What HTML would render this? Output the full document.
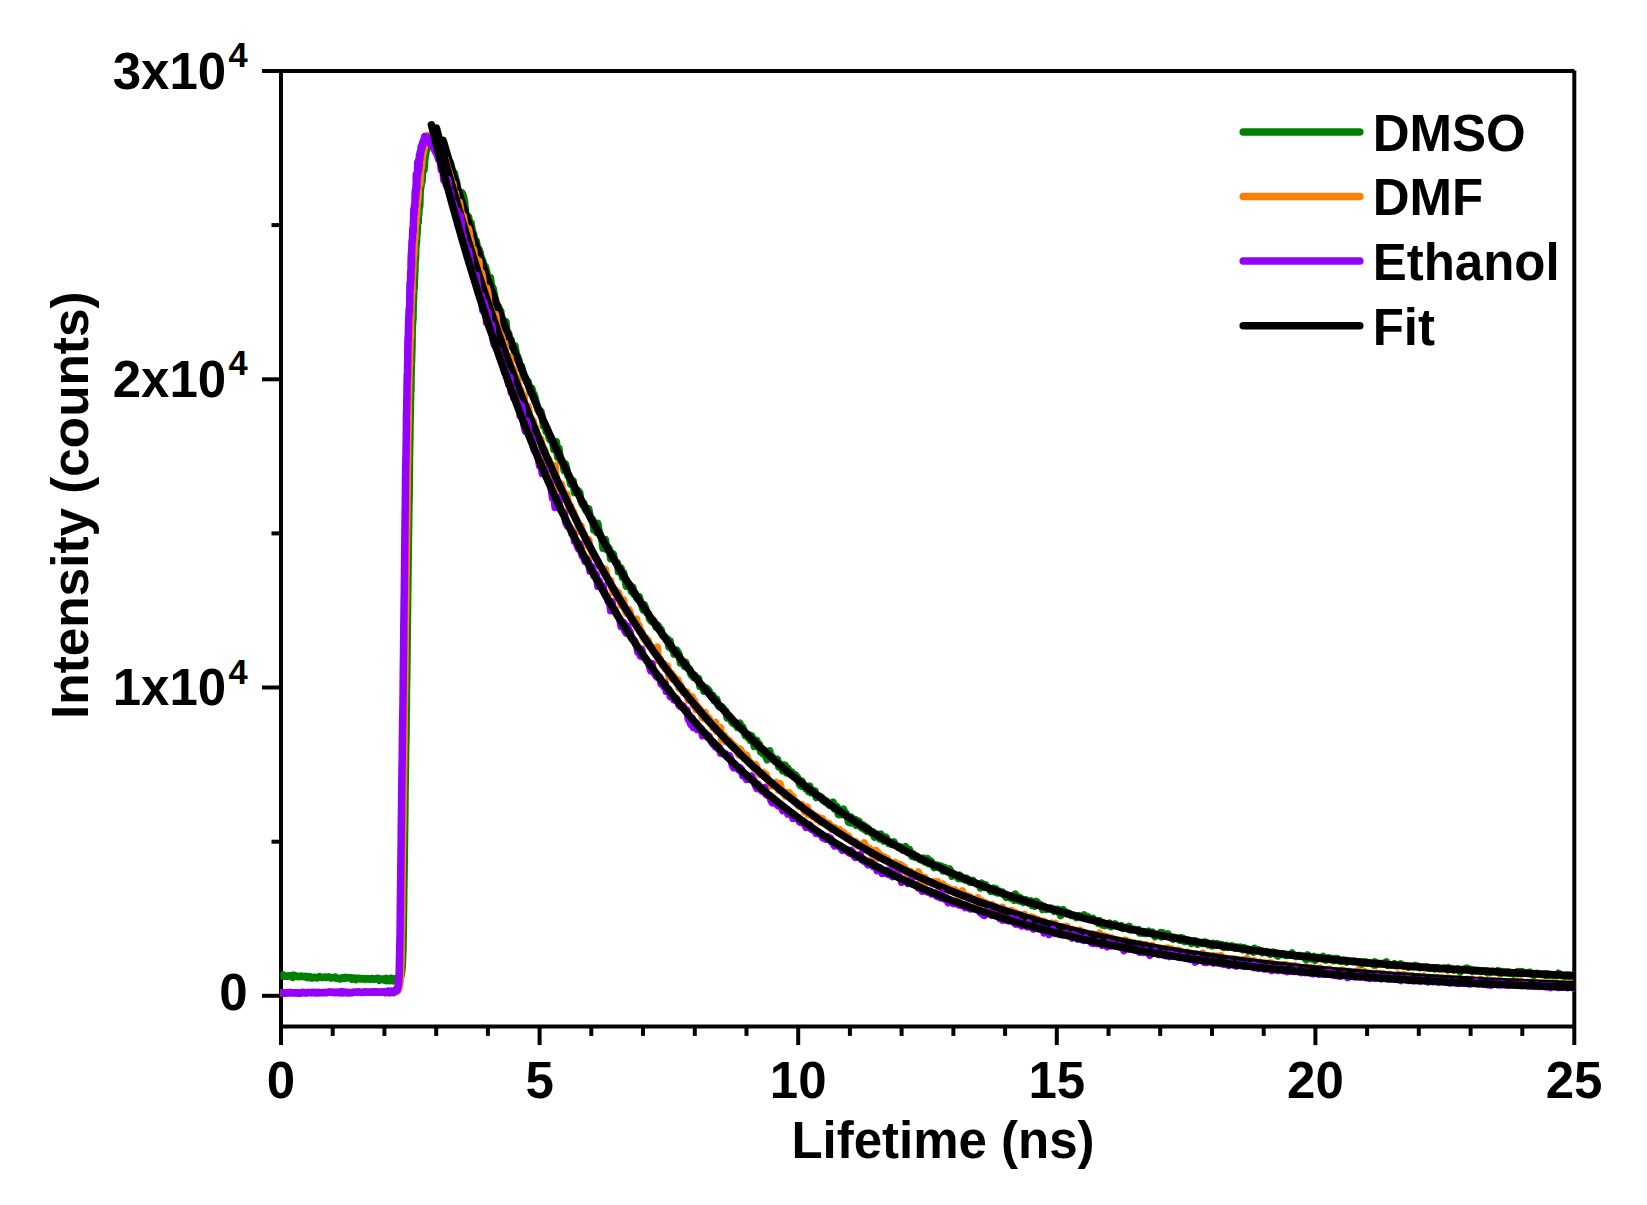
<!DOCTYPE html>
<html lang="en">
<head>
<meta charset="utf-8">
<title>Lifetime decay</title>
<style>html,body{margin:0;padding:0;background:#fff}svg{display:block}</style>
</head>
<body>
<svg width="1647" height="1205" viewBox="0 0 1647 1205">
<rect width="1647" height="1205" fill="#fff"/>
<defs><clipPath id="pc"><rect x="280.4" y="71.0" width="1294.8" height="955.6"/></clipPath></defs>
<g stroke="#000" stroke-width="4.0" fill="none" stroke-linecap="butt">
<line x1="281.0" y1="69.0" x2="281.0" y2="1045.1"/>
<line x1="1574.3" y1="70.5" x2="1574.3" y2="1045.1"/>
<line x1="262.0" y1="71.0" x2="1574.3" y2="71.0"/>
<line x1="281.0" y1="1026.6" x2="1574.3" y2="1026.6"/>
<line x1="332.7" y1="1026.6" x2="332.7" y2="1035.9"/>
<line x1="384.4" y1="1026.6" x2="384.4" y2="1035.9"/>
<line x1="436.2" y1="1026.6" x2="436.2" y2="1035.9"/>
<line x1="487.9" y1="1026.6" x2="487.9" y2="1035.9"/>
<line x1="539.6" y1="1026.6" x2="539.6" y2="1045.1"/>
<line x1="591.3" y1="1026.6" x2="591.3" y2="1035.9"/>
<line x1="643.0" y1="1026.6" x2="643.0" y2="1035.9"/>
<line x1="694.8" y1="1026.6" x2="694.8" y2="1035.9"/>
<line x1="746.5" y1="1026.6" x2="746.5" y2="1035.9"/>
<line x1="798.2" y1="1026.6" x2="798.2" y2="1045.1"/>
<line x1="849.9" y1="1026.6" x2="849.9" y2="1035.9"/>
<line x1="901.6" y1="1026.6" x2="901.6" y2="1035.9"/>
<line x1="953.4" y1="1026.6" x2="953.4" y2="1035.9"/>
<line x1="1005.1" y1="1026.6" x2="1005.1" y2="1035.9"/>
<line x1="1056.8" y1="1026.6" x2="1056.8" y2="1045.1"/>
<line x1="1108.5" y1="1026.6" x2="1108.5" y2="1035.9"/>
<line x1="1160.2" y1="1026.6" x2="1160.2" y2="1035.9"/>
<line x1="1212.0" y1="1026.6" x2="1212.0" y2="1035.9"/>
<line x1="1263.7" y1="1026.6" x2="1263.7" y2="1035.9"/>
<line x1="1315.4" y1="1026.6" x2="1315.4" y2="1045.1"/>
<line x1="1367.1" y1="1026.6" x2="1367.1" y2="1035.9"/>
<line x1="1418.8" y1="1026.6" x2="1418.8" y2="1035.9"/>
<line x1="1470.6" y1="1026.6" x2="1470.6" y2="1035.9"/>
<line x1="1522.3" y1="1026.6" x2="1522.3" y2="1035.9"/>
<line x1="262.0" y1="995.8" x2="281.0" y2="995.8"/>
<line x1="271.5" y1="841.7" x2="281.0" y2="841.7"/>
<line x1="262.0" y1="687.5" x2="281.0" y2="687.5"/>
<line x1="271.5" y1="533.4" x2="281.0" y2="533.4"/>
<line x1="262.0" y1="379.3" x2="281.0" y2="379.3"/>
<line x1="271.5" y1="225.1" x2="281.0" y2="225.1"/>
</g>
<g clip-path="url(#pc)" fill="none" stroke-linejoin="round" stroke-linecap="round">
<path stroke="#008000" stroke-width="7.5" d="M281.0 975.7L282.3 974.9L283.6 975.0L284.9 976.2L286.2 976.1L287.5 976.3L288.8 975.7L290.1 976.1L291.3 975.6L292.6 977.4L293.9 975.2L295.2 976.3L296.5 975.9L297.8 976.5L299.1 976.7L300.4 976.2L301.7 976.0L303.0 976.7L304.3 976.7L305.6 976.2L306.9 977.3L308.2 977.7L309.4 976.5L310.7 977.3L312.0 978.1L313.3 977.5L314.6 977.3L315.9 977.8L317.2 978.0L318.5 977.1L319.8 976.6L321.1 977.4L322.4 977.7L323.7 977.1L325.0 976.9L326.3 977.6L327.5 977.1L328.8 976.8L330.1 977.7L331.4 978.1L332.7 977.4L334.0 977.5L335.3 977.0L336.6 978.6L337.9 978.3L339.2 978.4L340.5 979.0L341.8 977.9L343.1 977.7L344.4 978.5L345.6 977.3L346.9 977.7L348.2 977.8L349.5 978.0L350.8 977.7L352.1 979.2L353.4 978.0L354.7 978.1L356.0 979.6L357.3 978.3L358.6 978.7L359.9 978.2L361.2 979.0L362.5 978.7L363.8 978.6L365.0 979.4L366.3 978.5L367.6 979.0L368.9 978.7L370.2 979.3L371.5 978.4L372.8 978.7L374.1 979.3L375.4 978.8L376.7 978.5L378.0 978.2L379.3 980.3L380.6 978.9L381.9 979.2L383.1 979.5L384.4 980.1L384.6 978.8L384.9 980.3L385.1 979.2L385.3 978.8L385.5 980.5L385.7 979.8L385.7 980.4L385.9 979.4L386.1 978.7L386.3 978.4L386.5 980.7L386.7 980.0L386.9 979.2L387.0 978.7L387.1 979.4L387.3 980.1L387.5 979.5L387.8 979.7L388.0 979.8L388.2 980.1L388.3 979.4L388.4 979.5L388.6 979.7L388.8 979.8L389.0 980.5L389.2 980.0L389.4 979.0L389.6 979.8L389.8 980.6L390.0 978.9L390.2 979.4L390.4 978.5L390.6 979.7L390.9 980.0L390.9 980.6L391.1 979.0L391.3 978.2L391.5 980.3L391.7 980.2L391.9 979.4L392.1 980.3L392.2 979.9L392.3 980.0L392.5 979.6L392.7 979.1L392.9 979.7L393.1 979.2L393.3 980.0L393.5 979.5L393.5 981.0L393.7 980.6L394.0 979.2L394.2 980.0L394.4 979.3L394.6 979.3L394.8 978.8L395.0 979.1L395.2 979.0L395.4 979.7L395.6 980.0L395.8 980.0L396.0 979.8L396.1 980.2L396.2 979.8L396.4 979.5L396.6 979.3L396.9 979.6L397.1 980.5L397.3 979.4L397.4 979.2L397.5 978.6L397.7 978.9L397.9 979.5L398.1 979.5L398.3 977.8L398.5 978.5L398.7 977.7L398.7 977.5L398.9 979.2L399.1 978.3L399.3 978.1L399.5 977.8L399.7 977.6L400.0 977.6L400.2 977.3L400.4 978.1L400.6 976.8L400.8 976.7L401.0 975.5L401.2 975.1L401.2 974.2L401.4 973.4L401.6 972.7L401.8 971.2L402.0 969.2L402.2 967.0L402.4 963.5L402.5 961.4L402.6 957.7L402.9 950.9L403.1 941.7L403.3 932.2L403.5 914.9L403.7 901.6L403.8 890.2L403.9 885.6L404.1 871.0L404.3 853.8L404.5 839.5L404.7 824.8L404.9 809.0L405.1 789.3L405.3 777.0L405.5 764.8L405.7 747.2L406.0 736.0L406.2 712.6L406.4 705.6L406.4 696.6L406.6 684.7L406.8 674.0L407.0 653.1L407.2 634.7L407.4 619.7L407.6 603.9L407.7 593.8L407.8 588.0L408.0 571.6L408.2 557.5L408.4 539.9L408.6 529.5L408.9 508.1L409.0 500.6L409.1 498.7L409.3 478.3L409.5 458.5L409.7 446.4L409.9 437.7L410.1 420.5L410.3 412.9L410.5 401.3L410.7 391.1L410.9 391.1L411.1 373.2L411.3 369.6L411.5 360.6L411.6 361.6L411.7 356.2L412.0 346.9L412.2 333.4L412.4 323.6L412.6 323.9L412.8 313.7L412.9 316.1L413.0 319.7L413.2 306.3L413.4 299.9L413.6 298.4L413.8 290.7L414.0 284.9L414.2 287.2L414.2 288.5L414.4 279.1L414.6 274.7L414.9 271.1L415.1 261.7L415.3 254.8L415.5 259.6L415.7 251.4L415.9 246.8L416.1 244.3L416.3 239.5L416.5 242.1L416.7 234.3L416.8 228.2L416.9 230.9L417.1 233.8L417.3 225.8L417.5 220.2L417.7 221.2L418.0 222.3L418.1 212.2L418.2 222.5L418.4 212.6L418.6 212.2L418.8 214.6L419.0 202.0L419.2 203.3L419.4 207.8L419.4 199.8L419.6 201.9L419.8 205.9L420.0 198.6L420.2 192.4L420.4 188.7L420.6 188.7L420.9 187.2L421.1 183.5L421.3 184.5L421.5 176.8L421.7 179.4L421.9 177.1L421.9 175.6L422.1 181.2L422.3 178.1L422.5 166.9L422.7 170.5L422.9 171.6L423.1 167.4L423.2 170.2L423.3 166.2L423.5 168.9L423.7 163.4L424.0 170.0L424.2 156.2L424.4 162.8L424.5 166.5L424.6 160.3L424.8 159.7L425.0 156.7L425.2 157.0L425.4 154.2L425.6 149.6L425.8 153.8L426.0 151.1L426.2 150.8L426.4 149.3L426.6 150.6L426.9 149.0L427.1 146.5L427.1 146.8L427.3 144.4L427.5 146.1L427.7 144.4L427.9 140.6L428.1 143.9L428.3 143.4L428.4 142.1L428.5 141.8L428.7 140.2L428.9 140.4L429.1 140.9L429.3 139.4L429.5 136.4L429.7 137.7L429.7 142.1L430.0 139.0L430.2 139.7L430.4 137.9L430.6 138.7L430.8 136.3L431.0 137.3L432.3 137.4L433.6 139.0L434.9 140.3L436.2 141.0L437.5 141.3L438.7 143.7L440.0 146.4L441.3 146.6L442.6 149.9L443.9 152.5L445.2 158.4L446.5 160.1L447.8 163.3L449.1 175.7L450.4 162.5L451.7 167.8L453.0 174.5L454.3 172.7L455.6 178.9L456.8 182.9L458.1 198.7L459.4 193.0L460.7 193.5L462.0 192.9L463.3 195.8L464.6 201.4L465.9 216.2L467.2 224.4L468.5 216.7L469.8 222.9L471.1 223.0L472.4 231.4L473.7 233.9L474.9 244.8L476.2 240.7L477.5 248.2L478.8 248.9L480.1 252.3L481.4 258.5L482.7 260.6L484.0 265.7L485.3 266.4L486.6 271.2L487.9 279.2L489.2 283.1L490.5 277.6L491.8 288.6L493.1 288.0L494.3 294.1L495.6 301.5L496.9 305.9L498.2 306.1L499.5 309.2L500.8 311.4L502.1 322.2L503.4 323.2L504.7 324.8L506.0 321.7L507.3 340.4L508.6 333.1L509.9 340.3L511.2 340.0L512.4 346.9L513.7 347.1L515.0 345.9L516.3 353.8L517.6 356.8L518.9 360.3L520.2 367.8L521.5 366.2L522.8 372.3L524.1 377.7L525.4 378.0L526.7 381.9L528.0 381.4L529.3 387.5L530.5 392.4L531.8 388.2L533.1 393.0L534.4 395.1L535.7 400.5L537.0 406.2L538.3 410.3L539.6 412.8L540.9 411.3L542.2 417.3L543.5 426.0L544.8 423.7L546.1 431.5L547.4 428.8L548.7 436.5L549.9 439.6L551.2 437.6L552.5 441.1L553.8 449.5L555.1 443.8L556.4 441.7L557.7 457.1L559.0 448.4L560.3 459.9L561.6 461.9L562.9 463.5L564.2 470.6L565.5 463.9L566.8 469.3L568.0 476.2L569.3 477.2L570.6 484.0L571.9 482.7L573.2 481.0L574.5 492.5L575.8 490.7L577.1 491.3L578.4 490.9L579.7 492.4L581.0 501.0L582.3 504.4L583.6 502.9L584.9 508.1L586.1 510.4L587.4 508.3L588.7 508.8L590.0 515.8L591.3 519.8L592.6 519.7L593.9 530.0L595.2 526.4L596.5 532.1L597.8 523.3L599.1 531.1L600.4 535.2L601.7 538.6L603.0 548.3L604.2 540.3L605.5 539.7L606.8 549.5L608.1 547.3L609.4 549.4L610.7 558.8L612.0 553.2L613.3 554.1L614.6 559.8L615.9 562.9L617.2 562.5L618.5 571.8L619.8 568.9L621.1 568.1L622.4 577.3L623.6 572.6L624.9 579.0L626.2 586.2L627.5 582.2L628.8 586.9L630.1 585.1L631.4 591.6L632.7 587.0L634.0 594.4L635.3 593.1L636.6 598.0L637.9 599.2L639.2 596.7L640.5 601.5L641.7 605.3L643.0 609.8L644.3 604.7L645.6 607.9L646.9 612.9L648.2 613.1L649.5 618.8L650.8 620.6L652.1 621.9L653.4 620.4L654.7 622.5L656.0 627.3L657.3 624.9L658.6 626.6L659.8 630.2L661.1 629.6L662.4 635.1L663.7 636.4L665.0 636.6L666.3 639.8L667.6 639.2L668.9 646.8L670.2 641.0L671.5 648.9L672.8 648.9L674.1 654.0L675.4 650.3L676.7 650.1L678.0 652.4L679.2 654.7L680.5 663.0L681.8 662.5L683.1 663.3L684.4 666.3L685.7 662.3L687.0 666.5L688.3 668.7L689.6 669.0L690.9 674.4L692.2 675.9L693.5 677.4L694.8 675.4L696.1 677.4L697.3 678.3L698.6 678.5L699.9 686.5L701.2 686.0L702.5 685.7L703.8 691.1L705.1 690.5L706.4 688.0L707.7 689.3L709.0 690.8L710.3 695.0L711.6 697.2L712.9 695.3L714.2 700.5L715.4 700.2L716.7 699.1L718.0 704.9L719.3 706.9L720.6 706.8L721.9 706.7L723.2 708.4L724.5 710.7L725.8 711.1L727.1 717.9L728.4 717.4L729.7 716.2L731.0 720.3L732.3 722.7L733.5 723.7L734.8 724.3L736.1 723.9L737.4 727.3L738.7 725.5L740.0 723.3L741.3 729.1L742.6 727.0L743.9 730.7L745.2 735.4L746.5 734.6L747.8 737.6L749.1 734.7L750.4 740.5L751.7 735.9L752.9 738.9L754.2 746.4L755.5 740.9L756.8 740.4L758.1 747.1L759.4 744.2L760.7 751.9L762.0 748.3L763.3 754.0L764.6 750.2L765.9 756.7L767.2 759.8L768.5 754.0L769.8 750.8L771.0 758.6L772.3 756.5L773.6 759.3L774.9 761.4L776.2 760.4L777.5 759.3L778.8 766.9L780.1 764.0L781.4 765.6L782.7 770.7L784.0 765.0L785.3 765.3L786.6 772.9L787.9 768.0L789.1 772.9L790.4 774.4L791.7 771.8L793.0 775.7L794.3 776.6L795.6 775.0L796.9 776.6L798.2 778.5L799.5 784.5L800.8 785.9L802.1 781.1L803.4 786.6L804.7 785.3L806.0 788.9L807.3 788.0L808.5 791.4L809.8 786.1L811.1 792.8L812.4 791.9L813.7 793.0L815.0 791.0L816.3 797.6L817.6 795.6L818.9 796.9L820.2 796.3L821.5 797.4L822.8 800.3L824.1 799.8L825.4 802.0L826.6 801.2L827.9 803.3L829.2 805.4L830.5 805.0L831.8 805.1L833.1 802.1L834.4 808.7L835.7 808.0L837.0 806.5L838.3 814.6L839.6 814.8L840.9 814.5L842.2 813.2L843.5 809.0L844.7 814.0L846.0 813.2L847.3 816.9L848.6 822.3L849.9 822.8L851.2 817.0L852.5 819.5L853.8 823.3L855.1 819.4L856.4 825.4L857.7 821.0L859.0 821.2L860.3 826.3L861.6 827.8L862.9 824.8L864.1 829.4L865.4 826.4L866.7 831.2L868.0 828.1L869.3 830.3L870.6 832.1L871.9 833.7L873.2 832.3L874.5 837.2L875.8 834.9L877.1 835.8L878.4 834.6L879.7 839.0L881.0 834.1L882.2 838.7L883.5 841.0L884.8 837.0L886.1 837.2L887.4 841.4L888.7 843.4L890.0 842.5L891.3 844.5L892.6 844.5L893.9 841.8L895.2 844.7L896.5 845.8L897.8 846.2L899.1 847.6L900.3 846.7L901.6 847.3L902.9 850.2L904.2 850.1L905.5 846.6L906.8 850.9L908.1 852.6L909.4 849.3L910.7 853.6L912.0 856.2L913.3 853.8L914.6 857.2L915.9 857.1L917.2 856.3L918.4 857.8L919.7 859.6L921.0 859.8L922.3 860.5L923.6 858.1L924.9 862.0L926.2 862.4L927.5 858.5L928.8 863.6L930.1 860.7L931.4 861.6L932.7 864.7L934.0 867.5L935.3 864.9L936.6 865.2L937.8 865.3L939.1 867.4L940.4 866.0L941.7 866.3L943.0 871.0L944.3 867.4L945.6 870.1L946.9 871.9L948.2 872.1L949.5 869.0L950.8 871.1L952.1 876.2L953.4 873.7L954.7 874.6L955.9 875.3L957.2 876.4L958.5 878.5L959.8 875.2L961.1 878.7L962.4 878.3L963.7 879.2L965.0 880.0L966.3 878.1L967.6 879.2L968.9 881.5L970.2 882.4L971.5 882.2L972.8 880.4L974.0 882.3L975.3 882.6L976.6 884.0L977.9 884.4L979.2 884.2L980.5 887.9L981.8 883.0L983.1 887.3L984.4 887.4L985.7 884.9L987.0 887.2L988.3 887.9L989.6 889.4L990.9 891.4L992.1 889.2L993.4 888.1L994.7 891.8L996.0 888.8L997.3 893.1L998.6 893.0L999.9 891.5L1001.2 892.8L1002.5 892.2L1003.8 894.8L1005.1 895.7L1006.4 897.4L1007.7 896.9L1009.0 897.1L1010.3 898.1L1011.5 896.0L1012.8 897.9L1014.1 900.3L1015.4 894.1L1016.7 899.4L1018.0 900.5L1019.3 897.2L1020.6 897.8L1021.9 901.6L1023.2 902.5L1024.5 902.2L1025.8 899.6L1027.1 902.1L1028.4 903.2L1029.6 902.5L1030.9 901.1L1032.2 905.3L1033.5 904.2L1034.8 906.1L1036.1 901.4L1037.4 902.3L1038.7 904.0L1040.0 905.9L1041.3 905.2L1042.6 909.5L1043.9 906.5L1045.2 909.2L1046.5 909.5L1047.7 909.0L1049.0 908.9L1050.3 908.0L1051.6 908.2L1052.9 909.2L1054.2 911.3L1055.5 909.4L1056.8 910.9L1058.1 909.5L1059.4 912.7L1060.7 915.6L1062.0 912.8L1063.3 909.6L1064.6 912.3L1065.9 913.6L1067.1 912.5L1068.4 913.3L1069.7 913.7L1071.0 915.4L1072.3 915.0L1073.6 915.1L1074.9 916.6L1076.2 917.6L1077.5 916.3L1078.8 915.5L1080.1 916.3L1081.4 916.8L1082.7 917.2L1084.0 914.8L1085.2 918.1L1086.5 917.5L1087.8 916.6L1089.1 919.4L1090.4 919.5L1091.7 918.8L1093.0 918.3L1094.3 920.4L1095.6 920.6L1096.9 921.3L1098.2 923.3L1099.5 920.6L1100.8 922.7L1102.1 924.9L1103.3 923.2L1104.6 925.5L1105.9 924.9L1107.2 923.9L1108.5 925.4L1109.8 923.2L1111.1 926.7L1112.4 924.8L1113.7 924.7L1115.0 923.9L1116.3 924.9L1117.6 926.0L1118.9 926.5L1120.2 927.0L1121.4 925.8L1122.7 928.3L1124.0 927.1L1125.3 928.2L1126.6 928.0L1127.9 928.9L1129.2 926.3L1130.5 930.0L1131.8 929.1L1133.1 929.4L1134.4 929.3L1135.7 929.7L1137.0 930.0L1138.3 929.6L1139.6 932.9L1140.8 931.4L1142.1 933.1L1143.4 931.6L1144.7 933.6L1146.0 933.6L1147.3 932.8L1148.6 931.3L1149.9 932.5L1151.2 933.1L1152.5 932.1L1153.8 935.1L1155.1 936.7L1156.4 935.0L1157.7 935.1L1158.9 933.6L1160.2 932.8L1161.5 937.0L1162.8 932.9L1164.1 934.2L1165.4 935.3L1166.7 936.0L1168.0 933.9L1169.3 936.9L1170.6 937.7L1171.9 937.3L1173.2 939.2L1174.5 937.4L1175.8 938.3L1177.0 938.0L1178.3 938.2L1179.6 940.0L1180.9 937.6L1182.2 940.4L1183.5 938.5L1184.8 941.5L1186.1 939.6L1187.4 941.1L1188.7 940.4L1190.0 941.4L1191.3 943.3L1192.6 942.3L1193.9 941.2L1195.2 940.8L1196.4 943.4L1197.7 944.3L1199.0 943.1L1200.3 942.6L1201.6 943.3L1202.9 943.7L1204.2 942.1L1205.5 942.2L1206.8 942.6L1208.1 944.7L1209.4 943.8L1210.7 944.3L1212.0 945.8L1213.3 943.5L1214.5 944.6L1215.8 945.4L1217.1 943.6L1218.4 944.5L1219.7 944.6L1221.0 944.4L1222.3 945.1L1223.6 947.4L1224.9 946.7L1226.2 945.4L1227.5 947.4L1228.8 946.8L1230.1 946.6L1231.4 945.7L1232.6 946.1L1233.9 946.7L1235.2 948.0L1236.5 947.0L1237.8 947.6L1239.1 948.5L1240.4 947.1L1241.7 948.2L1243.0 949.7L1244.3 947.8L1245.6 949.5L1246.9 948.8L1248.2 951.1L1249.5 949.8L1250.8 950.9L1252.0 951.1L1253.3 952.2L1254.6 948.3L1255.9 950.8L1257.2 950.6L1258.5 949.9L1259.8 951.3L1261.1 950.8L1262.4 952.9L1263.7 951.5L1265.0 952.3L1266.3 951.5L1267.6 952.0L1268.9 953.7L1270.1 954.3L1271.4 953.7L1272.7 952.1L1274.0 952.6L1275.3 952.8L1276.6 955.3L1277.9 956.1L1279.2 954.2L1280.5 954.1L1281.8 954.5L1283.1 953.8L1284.4 954.4L1285.7 955.5L1287.0 955.4L1288.2 954.6L1289.5 954.8L1290.8 955.1L1292.1 953.0L1293.4 955.6L1294.7 955.4L1296.0 956.6L1297.3 956.1L1298.6 955.4L1299.9 955.5L1301.2 956.4L1302.5 956.0L1303.8 956.4L1305.1 958.4L1306.3 959.8L1307.6 954.8L1308.9 956.3L1310.2 957.3L1311.5 959.0L1312.8 958.7L1314.1 956.4L1315.4 960.3L1316.7 958.2L1318.0 957.2L1319.3 958.0L1320.6 957.6L1321.9 958.6L1323.2 956.4L1324.5 959.6L1325.7 960.1L1327.0 958.7L1328.3 957.8L1329.6 959.3L1330.9 958.4L1332.2 960.0L1333.5 960.7L1334.8 958.5L1336.1 958.5L1337.4 958.6L1338.7 960.5L1340.0 961.3L1341.3 961.4L1342.6 960.7L1343.8 960.1L1345.1 960.3L1346.4 962.1L1347.7 960.8L1349.0 961.1L1350.3 961.2L1351.6 961.4L1352.9 961.7L1354.2 961.1L1355.5 961.6L1356.8 961.6L1358.1 962.6L1359.4 961.7L1360.7 962.3L1361.9 964.1L1363.2 962.0L1364.5 962.8L1365.8 961.9L1367.1 962.9L1368.4 963.0L1369.7 962.8L1371.0 963.1L1372.3 963.6L1373.6 964.9L1374.9 961.9L1376.2 964.9L1377.5 963.9L1378.8 963.2L1380.0 963.6L1381.3 963.5L1382.6 963.4L1383.9 963.1L1385.2 964.1L1386.5 962.0L1387.8 965.4L1389.1 964.4L1390.4 965.0L1391.7 965.3L1393.0 964.7L1394.3 963.8L1395.6 965.7L1396.9 965.8L1398.2 964.7L1399.4 965.0L1400.7 963.9L1402.0 964.8L1403.3 965.6L1404.6 966.1L1405.9 965.8L1407.2 966.2L1408.5 967.2L1409.8 966.2L1411.1 966.5L1412.4 966.6L1413.7 966.9L1415.0 965.3L1416.3 966.2L1417.5 966.1L1418.8 967.4L1420.1 967.8L1421.4 967.3L1422.7 967.0L1424.0 967.6L1425.3 967.5L1426.6 966.7L1427.9 967.3L1429.2 968.4L1430.5 968.1L1431.8 968.3L1433.1 967.8L1434.4 968.9L1435.6 968.2L1436.9 967.6L1438.2 968.2L1439.5 969.1L1440.8 968.9L1442.1 968.4L1443.4 968.2L1444.7 968.0L1446.0 968.9L1447.3 969.9L1448.6 967.8L1449.9 968.8L1451.2 968.8L1452.5 969.0L1453.8 970.1L1455.0 969.6L1456.3 969.3L1457.6 968.7L1458.9 969.6L1460.2 972.1L1461.5 970.0L1462.8 969.6L1464.1 969.0L1465.4 969.5L1466.7 968.2L1468.0 969.1L1469.3 969.2L1470.6 969.6L1471.9 971.4L1473.1 969.9L1474.4 970.1L1475.7 971.0L1477.0 970.3L1478.3 970.5L1479.6 971.2L1480.9 971.0L1482.2 971.2L1483.5 970.9L1484.8 971.5L1486.1 970.8L1487.4 972.7L1488.7 971.6L1490.0 972.7L1491.2 971.9L1492.5 971.2L1493.8 971.7L1495.1 971.8L1496.4 971.8L1497.7 970.7L1499.0 972.8L1500.3 971.4L1501.6 973.2L1502.9 972.5L1504.2 972.1L1505.5 972.9L1506.8 972.2L1508.1 971.9L1509.3 973.4L1510.6 972.6L1511.9 972.9L1513.2 974.1L1514.5 972.9L1515.8 973.4L1517.1 972.0L1518.4 973.6L1519.7 971.8L1521.0 973.5L1522.3 971.8L1523.6 972.9L1524.9 973.0L1526.2 972.8L1527.5 972.8L1528.7 972.5L1530.0 972.3L1531.3 973.9L1532.6 974.6L1533.9 975.6L1535.2 974.1L1536.5 973.3L1537.8 973.7L1539.1 973.9L1540.4 974.3L1541.7 974.6L1543.0 974.4L1544.3 974.0L1545.6 975.5L1546.8 973.9L1548.1 975.4L1549.4 974.6L1550.7 975.0L1552.0 974.9L1553.3 975.4L1554.6 975.5L1555.9 974.9L1557.2 975.6L1558.5 973.2L1559.8 975.2L1561.1 975.5L1562.4 975.4L1563.7 975.9L1564.9 976.8L1566.2 975.4L1567.5 975.1L1568.8 976.4L1570.1 975.4L1571.4 976.3L1572.7 975.5L1574.0 975.3"/>
<path stroke="#000" stroke-width="7.5" d="M443.1 140.3L448.3 157.7L453.4 174.8L458.6 191.5L463.8 207.8L469.0 223.8L474.1 239.5L479.3 254.8L484.5 269.9L489.6 284.6L494.8 299.0L500.0 313.1L505.2 326.9L510.3 340.4L515.5 353.7L520.7 366.7L525.9 379.4L531.0 391.8L536.2 404.0L541.4 415.9L546.5 427.6L551.7 439.0L556.9 450.2L562.1 461.2L567.2 472.0L572.4 482.5L577.6 492.8L582.7 502.9L587.9 512.7L593.1 522.4L598.3 531.9L603.4 541.2L608.6 550.2L613.8 559.1L618.9 567.9L624.1 576.4L629.3 584.7L634.5 592.9L639.6 600.9L644.8 608.8L650.0 616.5L655.2 624.0L660.3 631.4L665.5 638.6L670.7 645.6L675.8 652.6L681.0 659.3L686.2 666.0L691.4 672.5L696.5 678.8L701.7 685.1L706.9 691.2L712.0 697.2L717.2 703.0L722.4 708.8L727.6 714.4L732.7 719.9L737.9 725.3L743.1 730.5L748.2 735.7L753.4 740.8L758.6 745.7L763.8 750.6L768.9 755.3L774.1 760.0L779.3 764.5L784.5 769.0L789.6 773.4L794.8 777.7L800.0 781.9L805.1 786.0L810.3 790.0L815.5 793.9L820.7 797.8L825.8 801.6L831.0 805.3L836.2 808.9L841.3 812.5L846.5 815.9L851.7 819.4L856.9 822.7L862.0 826.0L867.2 829.2L872.4 832.3L877.5 835.4L882.7 838.4L887.9 841.3L893.1 844.2L898.2 847.1L903.4 849.8L908.6 852.5L913.8 855.2L918.9 857.8L924.1 860.4L929.3 862.9L934.4 865.3L939.6 867.7L944.8 870.1L950.0 872.4L955.1 874.6L960.3 876.8L965.5 879.0L970.6 881.1L975.8 883.2L981.0 885.2L986.2 887.2L991.3 889.2L996.5 891.1L1001.7 893.0L1006.8 894.8L1012.0 896.6L1017.2 898.4L1022.4 900.1L1027.5 901.8L1032.7 903.4L1037.9 905.1L1043.1 906.6L1048.2 908.2L1053.4 909.7L1058.6 911.2L1063.7 912.7L1068.9 914.1L1074.1 915.5L1079.3 916.9L1084.4 918.3L1089.6 919.6L1094.8 920.9L1099.9 922.2L1105.1 923.4L1110.3 924.6L1115.5 925.8L1120.6 927.0L1125.8 928.2L1131.0 929.3L1136.1 930.4L1141.3 931.5L1146.5 932.5L1151.7 933.6L1156.8 934.6L1162.0 935.6L1167.2 936.6L1172.4 937.5L1177.5 938.5L1182.7 939.4L1187.9 940.3L1193.0 941.2L1198.2 942.1L1203.4 942.9L1208.6 943.7L1213.7 944.6L1218.9 945.4L1224.1 946.2L1229.2 946.9L1234.4 947.7L1239.6 948.4L1244.8 949.1L1249.9 949.9L1255.1 950.6L1260.3 951.2L1265.4 951.9L1270.6 952.6L1275.8 953.2L1281.0 953.8L1286.1 954.5L1291.3 955.1L1296.5 955.7L1301.7 956.3L1306.8 956.8L1312.0 957.4L1317.2 957.9L1322.3 958.5L1327.5 959.0L1332.7 959.5L1337.9 960.1L1343.0 960.6L1348.2 961.0L1353.4 961.5L1358.5 962.0L1363.7 962.5L1368.9 962.9L1374.1 963.4L1379.2 963.8L1384.4 964.2L1389.6 964.7L1394.7 965.1L1399.9 965.5L1405.1 965.9L1410.3 966.3L1415.4 966.7L1420.6 967.0L1425.8 967.4L1431.0 967.8L1436.1 968.1L1441.3 968.5L1446.5 968.8L1451.6 969.2L1456.8 969.5L1462.0 969.8L1467.2 970.1L1472.3 970.4L1477.5 970.7L1482.7 971.0L1487.8 971.3L1493.0 971.6L1498.2 971.9L1503.4 972.2L1508.5 972.5L1513.7 972.7L1518.9 973.0L1524.0 973.3L1529.2 973.5L1534.4 973.8L1539.6 974.0L1544.7 974.3L1549.9 974.5L1555.1 974.7L1560.3 975.0L1565.4 975.2L1570.6 975.4L1574.0 975.6"/>
<path stroke="#FF8000" stroke-width="7.5" d="M281.0 992.7L282.3 992.8L283.6 993.0L284.9 992.6L286.2 993.0L287.5 992.7L288.8 992.6L290.1 992.9L291.3 993.1L292.6 992.6L293.9 993.1L295.2 993.0L296.5 993.0L297.8 992.5L299.1 992.8L300.4 993.3L301.7 992.5L303.0 992.2L304.3 992.2L305.6 992.8L306.9 992.7L308.2 992.5L309.4 992.4L310.7 992.7L312.0 992.9L313.3 992.4L314.6 992.5L315.9 993.0L317.2 992.7L318.5 992.5L319.8 992.6L321.1 992.4L322.4 992.4L323.7 992.4L325.0 992.6L326.3 992.9L327.5 992.4L328.8 992.2L330.1 992.0L331.4 992.5L332.7 992.5L334.0 992.1L335.3 992.1L336.6 992.4L337.9 992.3L339.2 992.7L340.5 992.3L341.8 992.7L343.1 992.5L344.4 992.5L345.6 992.5L346.9 993.0L348.2 992.6L349.5 992.3L350.8 992.4L352.1 992.5L353.4 992.2L354.7 992.2L356.0 992.1L357.3 992.6L358.6 992.3L359.9 992.4L361.2 992.5L362.5 992.7L363.8 992.3L365.0 992.5L366.3 991.7L367.6 992.3L368.9 992.3L370.2 992.4L371.5 991.7L372.8 992.5L374.1 992.3L375.4 992.4L376.7 992.2L378.0 992.2L379.3 991.9L380.6 992.6L381.9 992.2L383.1 991.7L384.4 992.3L384.6 992.2L384.9 992.4L385.1 992.9L385.3 992.2L385.5 991.8L385.7 992.3L385.7 992.7L385.9 992.1L386.1 992.1L386.3 991.8L386.5 991.9L386.7 992.2L386.9 992.0L387.0 992.6L387.1 991.8L387.3 992.1L387.5 991.8L387.8 991.8L388.0 992.2L388.2 992.2L388.3 992.4L388.4 992.7L388.6 992.1L388.8 992.1L389.0 992.4L389.2 991.9L389.4 992.1L389.6 992.0L389.8 992.3L390.0 992.6L390.2 991.9L390.4 991.9L390.6 992.1L390.9 992.2L390.9 992.1L391.1 992.1L391.3 992.2L391.5 992.6L391.7 991.8L391.9 992.5L392.1 992.1L392.2 992.1L392.3 991.9L392.5 992.5L392.7 991.6L392.9 991.8L393.1 991.7L393.3 991.6L393.5 992.2L393.5 992.8L393.7 991.8L394.0 991.5L394.2 991.5L394.4 992.0L394.6 991.8L394.8 991.7L395.0 992.3L395.2 991.9L395.4 991.8L395.6 991.1L395.8 991.7L396.0 991.0L396.1 991.4L396.2 991.9L396.4 990.6L396.6 991.5L396.9 990.9L397.1 990.4L397.3 991.0L397.4 991.2L397.5 990.3L397.7 990.4L397.9 990.6L398.1 990.3L398.3 989.7L398.5 988.9L398.7 989.0L398.7 988.5L398.9 987.5L399.1 987.0L399.3 986.1L399.5 985.2L399.7 985.4L400.0 982.2L400.2 980.3L400.4 977.6L400.6 974.2L400.8 968.4L401.0 960.1L401.2 949.2L401.2 947.3L401.4 936.6L401.6 920.9L401.8 903.2L402.0 889.2L402.2 873.1L402.4 854.2L402.5 849.0L402.6 839.2L402.9 826.4L403.1 808.0L403.3 793.0L403.5 777.5L403.7 763.6L403.8 753.4L403.9 747.9L404.1 732.8L404.3 713.5L404.5 697.9L404.7 687.2L404.9 665.7L405.1 652.0L405.3 632.6L405.5 618.4L405.7 604.7L406.0 580.8L406.2 566.4L406.4 556.0L406.4 554.3L406.6 538.2L406.8 524.3L407.0 505.5L407.2 486.2L407.4 467.6L407.6 458.6L407.7 445.3L407.8 438.8L408.0 430.9L408.2 422.9L408.4 402.7L408.6 393.8L408.9 378.0L409.0 374.7L409.1 374.9L409.3 363.0L409.5 365.1L409.7 352.7L409.9 347.1L410.1 332.3L410.3 330.1L410.5 337.6L410.7 314.4L410.9 317.4L411.1 305.2L411.3 304.7L411.5 296.7L411.6 293.9L411.7 292.0L412.0 291.7L412.2 277.6L412.4 277.0L412.6 274.3L412.8 267.1L412.9 270.0L413.0 258.1L413.2 260.8L413.4 256.3L413.6 252.6L413.8 254.0L414.0 251.5L414.2 243.2L414.2 241.8L414.4 234.3L414.6 234.7L414.9 237.9L415.1 228.1L415.3 223.9L415.5 220.2L415.7 220.1L415.9 223.8L416.1 211.1L416.3 216.3L416.5 208.2L416.7 214.7L416.8 204.2L416.9 208.8L417.1 198.5L417.3 193.2L417.5 193.4L417.7 201.0L418.0 197.8L418.1 196.4L418.2 188.8L418.4 188.0L418.6 186.7L418.8 184.0L419.0 180.9L419.2 178.7L419.4 172.9L419.4 179.8L419.6 176.9L419.8 184.0L420.0 180.0L420.2 175.7L420.4 176.2L420.6 168.6L420.9 163.5L421.1 168.3L421.3 167.0L421.5 165.7L421.7 161.5L421.9 163.0L421.9 158.5L422.1 158.0L422.3 156.5L422.5 153.4L422.7 155.3L422.9 154.1L423.1 151.1L423.2 152.5L423.3 151.0L423.5 150.7L423.7 150.2L424.0 149.2L424.2 148.6L424.4 146.8L424.5 146.7L424.6 146.3L424.8 143.7L425.0 144.3L425.2 142.1L425.4 142.3L425.6 140.8L425.8 141.7L426.0 140.1L426.2 136.7L426.4 138.0L426.6 137.2L426.9 137.5L427.1 136.4L427.1 138.5L427.3 137.9L427.5 136.2L427.7 135.5L427.9 136.7L428.1 136.4L428.3 136.5L428.4 136.3L428.5 137.3L428.7 137.5L428.9 136.0L429.1 137.8L429.3 137.0L429.5 136.6L429.7 137.1L429.7 135.7L430.0 136.5L430.2 136.2L430.4 137.4L430.6 137.2L430.8 136.0L431.0 136.3L432.3 138.4L433.6 138.9L434.9 140.6L436.2 142.4L437.5 142.9L438.7 147.4L440.0 149.0L441.3 151.7L442.6 156.3L443.9 163.4L445.2 158.8L446.5 164.1L447.8 168.7L449.1 172.6L450.4 176.5L451.7 184.3L453.0 183.3L454.3 196.3L455.6 192.9L456.8 203.2L458.1 202.6L459.4 202.3L460.7 210.6L462.0 215.8L463.3 215.9L464.6 223.4L465.9 228.2L467.2 232.4L468.5 228.8L469.8 236.6L471.1 241.6L472.4 252.6L473.7 249.5L474.9 261.5L476.2 258.5L477.5 269.1L478.8 260.9L480.1 279.7L481.4 272.2L482.7 278.1L484.0 292.5L485.3 290.4L486.6 287.9L487.9 293.2L489.2 308.2L490.5 307.8L491.8 314.3L493.1 317.7L494.3 320.2L495.6 314.5L496.9 325.0L498.2 330.3L499.5 334.6L500.8 334.6L502.1 338.3L503.4 348.2L504.7 342.9L506.0 356.3L507.3 356.9L508.6 357.9L509.9 356.8L511.2 368.1L512.4 369.3L513.7 369.1L515.0 375.2L516.3 376.8L517.6 380.7L518.9 387.0L520.2 389.1L521.5 391.4L522.8 398.3L524.1 395.7L525.4 412.1L526.7 411.5L528.0 406.2L529.3 413.2L530.5 420.2L531.8 419.8L533.1 420.4L534.4 429.5L535.7 427.9L537.0 434.2L538.3 437.3L539.6 440.2L540.9 439.1L542.2 450.0L543.5 450.3L544.8 449.8L546.1 459.3L547.4 463.5L548.7 459.0L549.9 463.9L551.2 467.3L552.5 469.2L553.8 475.9L555.1 465.5L556.4 481.6L557.7 482.5L559.0 488.7L560.3 488.1L561.6 484.3L562.9 492.1L564.2 492.9L565.5 499.2L566.8 494.3L568.0 502.5L569.3 509.8L570.6 505.8L571.9 512.2L573.2 511.6L574.5 515.8L575.8 518.0L577.1 521.0L578.4 526.9L579.7 531.4L581.0 525.9L582.3 532.0L583.6 533.2L584.9 538.1L586.1 545.5L587.4 545.6L588.7 539.6L590.0 548.9L591.3 550.0L592.6 555.9L593.9 555.3L595.2 557.2L596.5 559.1L597.8 561.0L599.1 565.0L600.4 567.2L601.7 567.8L603.0 569.0L604.2 572.7L605.5 569.2L606.8 576.2L608.1 578.6L609.4 583.3L610.7 580.4L612.0 588.8L613.3 592.8L614.6 593.0L615.9 590.4L617.2 597.9L618.5 592.7L619.8 598.8L621.1 605.3L622.4 603.6L623.6 599.8L624.9 609.7L626.2 613.0L627.5 609.8L628.8 609.5L630.1 612.4L631.4 618.3L632.7 618.8L634.0 620.4L635.3 620.0L636.6 619.2L637.9 627.6L639.2 625.6L640.5 632.2L641.7 631.5L643.0 637.7L644.3 639.2L645.6 637.7L646.9 643.3L648.2 640.2L649.5 646.1L650.8 646.2L652.1 648.5L653.4 651.0L654.7 651.6L656.0 650.8L657.3 647.0L658.6 660.6L659.8 658.3L661.1 661.4L662.4 665.2L663.7 663.7L665.0 668.6L666.3 668.1L667.6 666.3L668.9 676.8L670.2 672.4L671.5 673.6L672.8 679.0L674.1 676.7L675.4 678.9L676.7 682.4L678.0 679.9L679.2 688.2L680.5 684.7L681.8 688.6L683.1 692.4L684.4 691.7L685.7 693.8L687.0 692.3L688.3 699.9L689.6 698.1L690.9 700.3L692.2 696.7L693.5 705.1L694.8 701.1L696.1 709.8L697.3 706.0L698.6 708.7L699.9 708.9L701.2 713.1L702.5 717.7L703.8 718.2L705.1 712.5L706.4 716.7L707.7 720.9L709.0 717.9L710.3 723.5L711.6 724.9L712.9 727.5L714.2 723.0L715.4 722.5L716.7 731.1L718.0 729.4L719.3 729.1L720.6 727.7L721.9 740.0L723.2 735.3L724.5 735.4L725.8 741.8L727.1 738.7L728.4 740.5L729.7 740.6L731.0 745.0L732.3 743.9L733.5 747.7L734.8 746.1L736.1 748.5L737.4 751.0L738.7 754.7L740.0 748.8L741.3 751.3L742.6 753.1L743.9 758.0L745.2 758.5L746.5 755.1L747.8 758.4L749.1 763.3L750.4 762.5L751.7 763.5L752.9 765.4L754.2 768.3L755.5 764.5L756.8 767.2L758.1 770.2L759.4 774.4L760.7 773.4L762.0 773.2L763.3 772.4L764.6 776.3L765.9 774.2L767.2 777.5L768.5 780.5L769.8 786.1L771.0 783.7L772.3 785.5L773.6 783.7L774.9 783.7L776.2 782.5L777.5 786.6L778.8 790.2L780.1 783.7L781.4 789.2L782.7 791.5L784.0 792.5L785.3 795.9L786.6 792.7L787.9 794.3L789.1 792.8L790.4 794.8L791.7 796.4L793.0 796.6L794.3 800.8L795.6 802.1L796.9 802.3L798.2 805.8L799.5 804.5L800.8 805.9L802.1 804.8L803.4 807.2L804.7 812.0L806.0 809.0L807.3 807.2L808.5 814.7L809.8 813.5L811.1 812.8L812.4 816.5L813.7 815.9L815.0 815.6L816.3 819.2L817.6 816.9L818.9 817.6L820.2 821.9L821.5 820.2L822.8 819.0L824.1 822.4L825.4 822.1L826.6 822.6L827.9 825.2L829.2 823.7L830.5 825.7L831.8 829.3L833.1 827.2L834.4 827.4L835.7 828.4L837.0 832.0L838.3 830.7L839.6 829.8L840.9 832.8L842.2 831.9L843.5 832.5L844.7 835.8L846.0 835.3L847.3 838.0L848.6 836.2L849.9 839.2L851.2 840.9L852.5 840.7L853.8 841.6L855.1 841.5L856.4 842.1L857.7 845.9L859.0 845.7L860.3 844.7L861.6 845.2L862.9 846.7L864.1 842.8L865.4 846.3L866.7 849.3L868.0 848.6L869.3 848.2L870.6 850.7L871.9 855.2L873.2 852.7L874.5 853.5L875.8 850.5L877.1 858.3L878.4 853.0L879.7 856.7L881.0 855.5L882.2 858.4L883.5 858.2L884.8 857.3L886.1 859.8L887.4 858.8L888.7 861.5L890.0 862.7L891.3 863.1L892.6 864.2L893.9 864.3L895.2 862.4L896.5 867.4L897.8 868.9L899.1 866.7L900.3 864.5L901.6 866.2L902.9 866.4L904.2 867.2L905.5 871.2L906.8 870.4L908.1 875.7L909.4 872.9L910.7 871.5L912.0 875.7L913.3 877.1L914.6 876.5L915.9 874.6L917.2 873.7L918.4 872.0L919.7 874.5L921.0 879.9L922.3 881.8L923.6 878.4L924.9 877.5L926.2 882.4L927.5 881.2L928.8 881.7L930.1 881.5L931.4 882.4L932.7 881.8L934.0 881.6L935.3 883.7L936.6 883.2L937.8 881.8L939.1 887.1L940.4 887.7L941.7 885.8L943.0 884.3L944.3 887.4L945.6 886.5L946.9 889.3L948.2 887.9L949.5 890.8L950.8 889.3L952.1 890.3L953.4 890.8L954.7 889.9L955.9 890.9L957.2 893.9L958.5 892.2L959.8 896.6L961.1 893.1L962.4 890.9L963.7 894.8L965.0 895.3L966.3 896.5L967.6 895.8L968.9 898.2L970.2 897.0L971.5 898.9L972.8 899.6L974.0 899.3L975.3 900.0L976.6 903.0L977.9 897.9L979.2 901.2L980.5 904.3L981.8 900.8L983.1 902.8L984.4 903.0L985.7 902.7L987.0 905.5L988.3 908.8L989.6 905.2L990.9 905.2L992.1 904.6L993.4 907.5L994.7 907.3L996.0 906.8L997.3 908.2L998.6 908.6L999.9 908.3L1001.2 910.5L1002.5 907.3L1003.8 911.2L1005.1 910.3L1006.4 911.3L1007.7 912.2L1009.0 910.9L1010.3 910.7L1011.5 910.5L1012.8 912.1L1014.1 913.9L1015.4 912.6L1016.7 916.1L1018.0 914.5L1019.3 914.3L1020.6 914.6L1021.9 917.3L1023.2 918.2L1024.5 914.4L1025.8 917.6L1027.1 919.5L1028.4 919.4L1029.6 918.1L1030.9 917.0L1032.2 918.9L1033.5 917.7L1034.8 919.4L1036.1 919.4L1037.4 919.2L1038.7 921.3L1040.0 920.8L1041.3 922.0L1042.6 922.7L1043.9 921.4L1045.2 923.7L1046.5 922.9L1047.7 924.4L1049.0 923.8L1050.3 924.8L1051.6 923.1L1052.9 924.7L1054.2 925.1L1055.5 923.4L1056.8 929.5L1058.1 927.6L1059.4 930.0L1060.7 926.9L1062.0 926.7L1063.3 926.8L1064.6 927.6L1065.9 929.3L1067.1 926.4L1068.4 928.5L1069.7 929.6L1071.0 930.9L1072.3 929.4L1073.6 930.8L1074.9 931.1L1076.2 930.6L1077.5 930.9L1078.8 932.5L1080.1 930.3L1081.4 933.3L1082.7 933.8L1084.0 932.4L1085.2 932.9L1086.5 933.3L1087.8 934.2L1089.1 934.0L1090.4 935.0L1091.7 936.5L1093.0 934.1L1094.3 936.4L1095.6 935.8L1096.9 935.0L1098.2 936.1L1099.5 933.2L1100.8 938.3L1102.1 937.8L1103.3 937.1L1104.6 936.0L1105.9 938.1L1107.2 939.7L1108.5 937.1L1109.8 939.7L1111.1 939.2L1112.4 938.2L1113.7 940.2L1115.0 940.3L1116.3 939.5L1117.6 940.5L1118.9 940.3L1120.2 941.9L1121.4 941.3L1122.7 942.6L1124.0 943.4L1125.3 940.0L1126.6 941.7L1127.9 941.4L1129.2 943.7L1130.5 943.0L1131.8 943.4L1133.1 945.0L1134.4 943.1L1135.7 944.7L1137.0 944.4L1138.3 946.1L1139.6 943.7L1140.8 944.2L1142.1 944.8L1143.4 946.4L1144.7 946.3L1146.0 944.7L1147.3 946.5L1148.6 946.1L1149.9 946.5L1151.2 948.1L1152.5 945.5L1153.8 949.4L1155.1 947.4L1156.4 947.9L1157.7 949.7L1158.9 947.9L1160.2 948.0L1161.5 948.7L1162.8 949.8L1164.1 948.7L1165.4 948.3L1166.7 949.4L1168.0 948.1L1169.3 949.2L1170.6 949.5L1171.9 949.1L1173.2 951.4L1174.5 951.5L1175.8 950.7L1177.0 950.9L1178.3 950.1L1179.6 950.7L1180.9 951.8L1182.2 952.0L1183.5 952.7L1184.8 953.0L1186.1 953.3L1187.4 952.2L1188.7 953.7L1190.0 953.8L1191.3 953.5L1192.6 954.3L1193.9 954.3L1195.2 956.3L1196.4 954.1L1197.7 954.9L1199.0 954.6L1200.3 954.7L1201.6 957.0L1202.9 953.1L1204.2 955.4L1205.5 955.6L1206.8 957.6L1208.1 955.5L1209.4 955.9L1210.7 956.8L1212.0 956.4L1213.3 955.7L1214.5 957.3L1215.8 958.0L1217.1 956.1L1218.4 957.3L1219.7 957.9L1221.0 955.8L1222.3 957.9L1223.6 958.4L1224.9 958.2L1226.2 959.0L1227.5 958.6L1228.8 958.8L1230.1 959.7L1231.4 959.5L1232.6 959.2L1233.9 959.3L1235.2 959.3L1236.5 959.3L1237.8 959.9L1239.1 959.9L1240.4 960.8L1241.7 960.9L1243.0 959.9L1244.3 962.7L1245.6 960.8L1246.9 958.6L1248.2 963.1L1249.5 960.4L1250.8 963.4L1252.0 961.7L1253.3 960.8L1254.6 961.0L1255.9 963.3L1257.2 963.8L1258.5 964.0L1259.8 962.3L1261.1 963.4L1262.4 963.3L1263.7 963.2L1265.0 963.2L1266.3 963.3L1267.6 963.8L1268.9 965.4L1270.1 963.0L1271.4 966.6L1272.7 963.4L1274.0 965.1L1275.3 964.9L1276.6 965.3L1277.9 965.4L1279.2 965.2L1280.5 965.6L1281.8 966.4L1283.1 964.9L1284.4 966.2L1285.7 964.8L1287.0 966.2L1288.2 966.8L1289.5 966.0L1290.8 965.7L1292.1 967.3L1293.4 967.0L1294.7 965.7L1296.0 967.8L1297.3 967.8L1298.6 967.1L1299.9 968.4L1301.2 969.5L1302.5 969.0L1303.8 967.5L1305.1 967.4L1306.3 967.6L1307.6 967.9L1308.9 969.3L1310.2 967.9L1311.5 967.7L1312.8 969.2L1314.1 968.1L1315.4 969.2L1316.7 968.9L1318.0 968.9L1319.3 970.4L1320.6 968.3L1321.9 970.2L1323.2 969.7L1324.5 970.2L1325.7 969.6L1327.0 969.7L1328.3 970.1L1329.6 969.2L1330.9 970.2L1332.2 970.8L1333.5 972.8L1334.8 970.9L1336.1 971.0L1337.4 971.6L1338.7 971.7L1340.0 970.7L1341.3 970.5L1342.6 970.0L1343.8 970.7L1345.1 972.1L1346.4 971.5L1347.7 972.8L1349.0 971.4L1350.3 971.8L1351.6 972.6L1352.9 972.3L1354.2 972.6L1355.5 972.9L1356.8 971.6L1358.1 970.5L1359.4 972.2L1360.7 972.1L1361.9 972.9L1363.2 973.4L1364.5 971.6L1365.8 973.6L1367.1 973.1L1368.4 973.6L1369.7 973.2L1371.0 973.7L1372.3 973.4L1373.6 974.8L1374.9 974.1L1376.2 973.2L1377.5 974.9L1378.8 974.8L1380.0 973.5L1381.3 974.2L1382.6 973.9L1383.9 976.2L1385.2 974.7L1386.5 975.7L1387.8 975.9L1389.1 974.8L1390.4 974.3L1391.7 976.3L1393.0 976.1L1394.3 975.8L1395.6 975.6L1396.9 976.5L1398.2 974.2L1399.4 975.4L1400.7 976.1L1402.0 976.3L1403.3 974.5L1404.6 974.7L1405.9 976.6L1407.2 976.1L1408.5 975.6L1409.8 977.3L1411.1 977.0L1412.4 975.8L1413.7 977.2L1415.0 977.1L1416.3 977.8L1417.5 977.5L1418.8 976.6L1420.1 977.7L1421.4 978.1L1422.7 977.7L1424.0 976.3L1425.3 977.4L1426.6 977.9L1427.9 977.6L1429.2 977.5L1430.5 977.7L1431.8 979.0L1433.1 977.8L1434.4 978.2L1435.6 977.6L1436.9 979.1L1438.2 977.6L1439.5 978.7L1440.8 979.5L1442.1 977.7L1443.4 978.9L1444.7 978.4L1446.0 978.8L1447.3 978.1L1448.6 978.2L1449.9 978.3L1451.2 978.6L1452.5 980.1L1453.8 980.2L1455.0 979.1L1456.3 979.9L1457.6 979.1L1458.9 979.4L1460.2 980.4L1461.5 980.2L1462.8 980.4L1464.1 980.3L1465.4 980.0L1466.7 979.5L1468.0 979.2L1469.3 980.6L1470.6 980.4L1471.9 979.2L1473.1 979.7L1474.4 980.2L1475.7 981.8L1477.0 981.0L1478.3 980.4L1479.6 980.9L1480.9 979.5L1482.2 980.6L1483.5 980.6L1484.8 981.5L1486.1 981.5L1487.4 981.3L1488.7 981.4L1490.0 981.2L1491.2 980.9L1492.5 981.1L1493.8 980.7L1495.1 982.1L1496.4 981.3L1497.7 981.3L1499.0 980.6L1500.3 981.7L1501.6 981.4L1502.9 982.2L1504.2 981.5L1505.5 981.6L1506.8 982.2L1508.1 982.2L1509.3 982.0L1510.6 981.7L1511.9 982.7L1513.2 981.7L1514.5 982.4L1515.8 981.2L1517.1 981.5L1518.4 982.6L1519.7 982.8L1521.0 981.1L1522.3 982.2L1523.6 982.3L1524.9 982.9L1526.2 982.8L1527.5 982.3L1528.7 982.5L1530.0 983.3L1531.3 982.3L1532.6 982.8L1533.9 983.6L1535.2 982.6L1536.5 983.2L1537.8 982.8L1539.1 983.5L1540.4 983.1L1541.7 984.2L1543.0 983.2L1544.3 984.3L1545.6 983.4L1546.8 984.9L1548.1 983.6L1549.4 983.3L1550.7 983.5L1552.0 983.1L1553.3 984.4L1554.6 983.0L1555.9 983.1L1557.2 984.6L1558.5 984.4L1559.8 984.3L1561.1 984.1L1562.4 984.1L1563.7 985.5L1564.9 983.9L1566.2 984.4L1567.5 984.9L1568.8 983.9L1570.1 984.6L1571.4 983.9L1572.7 984.3L1574.0 984.7"/>
<path stroke="#000" stroke-width="7.5" d="M436.4 128.0L441.6 147.5L446.7 166.5L451.9 185.0L457.1 203.1L462.3 220.8L467.4 238.0L472.6 254.9L477.8 271.3L482.9 287.4L488.1 303.0L493.3 318.3L498.5 333.3L503.6 347.9L508.8 362.1L514.0 376.0L519.2 389.6L524.3 402.8L529.5 415.8L534.7 428.5L539.8 440.8L545.0 452.9L550.2 464.7L555.4 476.2L560.5 487.5L565.7 498.4L570.9 509.2L576.0 519.7L581.2 529.9L586.4 540.0L591.6 549.7L596.7 559.3L601.9 568.7L607.1 577.8L612.2 586.7L617.4 595.5L622.6 604.0L627.8 612.3L632.9 620.5L638.1 628.5L643.3 636.2L648.5 643.9L653.6 651.3L658.8 658.6L664.0 665.7L669.1 672.6L674.3 679.4L679.5 686.1L684.7 692.6L689.8 699.0L695.0 705.2L700.2 711.3L705.3 717.2L710.5 723.0L715.7 728.7L720.9 734.3L726.0 739.7L731.2 745.0L736.4 750.2L741.5 755.3L746.7 760.3L751.9 765.2L757.1 769.9L762.2 774.6L767.4 779.2L772.6 783.6L777.8 788.0L782.9 792.3L788.1 796.4L793.3 800.5L798.4 804.5L803.6 808.4L808.8 812.3L814.0 816.0L819.1 819.7L824.3 823.3L829.5 826.8L834.6 830.2L839.8 833.6L845.0 836.9L850.2 840.1L855.3 843.3L860.5 846.4L865.7 849.4L870.8 852.3L876.0 855.2L881.2 858.1L886.4 860.8L891.5 863.6L896.7 866.2L901.9 868.8L907.1 871.4L912.2 873.9L917.4 876.3L922.6 878.7L927.7 881.0L932.9 883.3L938.1 885.6L943.3 887.8L948.4 889.9L953.6 892.0L958.8 894.1L963.9 896.1L969.1 898.1L974.3 900.0L979.5 901.9L984.6 903.8L989.8 905.6L995.0 907.4L1000.1 909.1L1005.3 910.8L1010.5 912.5L1015.7 914.1L1020.8 915.7L1026.0 917.3L1031.2 918.8L1036.4 920.4L1041.5 921.8L1046.7 923.3L1051.9 924.7L1057.0 926.1L1062.2 927.4L1067.4 928.8L1072.6 930.1L1077.7 931.3L1082.9 932.6L1088.1 933.8L1093.2 935.0L1098.4 936.2L1103.6 937.4L1108.8 938.5L1113.9 939.6L1119.1 940.7L1124.3 941.7L1129.4 942.8L1134.6 943.8L1139.8 944.8L1145.0 945.8L1150.1 946.7L1155.3 947.7L1160.5 948.6L1165.7 949.5L1170.8 950.4L1176.0 951.2L1181.2 952.1L1186.3 952.9L1191.5 953.7L1196.7 954.5L1201.9 955.3L1207.0 956.0L1212.2 956.8L1217.4 957.5L1222.5 958.2L1227.7 959.0L1232.9 959.6L1238.1 960.3L1243.2 961.0L1248.4 961.6L1253.6 962.3L1258.7 962.9L1263.9 963.5L1269.1 964.1L1274.3 964.7L1279.4 965.3L1284.6 965.8L1289.8 966.4L1295.0 966.9L1300.1 967.5L1305.3 968.0L1310.5 968.5L1315.6 969.0L1320.8 969.5L1326.0 970.0L1331.2 970.4L1336.3 970.9L1341.5 971.3L1346.7 971.8L1351.8 972.2L1357.0 972.6L1362.2 973.1L1367.4 973.5L1372.5 973.9L1377.7 974.3L1382.9 974.6L1388.0 975.0L1393.2 975.4L1398.4 975.7L1403.6 976.1L1408.7 976.4L1413.9 976.8L1419.1 977.1L1424.3 977.4L1429.4 977.8L1434.6 978.1L1439.8 978.4L1444.9 978.7L1450.1 979.0L1455.3 979.3L1460.5 979.6L1465.6 979.8L1470.8 980.1L1476.0 980.4L1481.1 980.6L1486.3 980.9L1491.5 981.2L1496.7 981.4L1501.8 981.6L1507.0 981.9L1512.2 982.1L1517.3 982.3L1522.5 982.6L1527.7 982.8L1532.9 983.0L1538.0 983.2L1543.2 983.4L1548.4 983.6L1553.6 983.8L1558.7 984.0L1563.9 984.2L1569.1 984.4L1574.0 984.6"/>
<path stroke="#9400FF" stroke-width="7.5" d="M281.0 992.6L282.3 992.7L283.6 993.0L284.9 993.3L286.2 993.0L287.5 992.7L288.8 992.9L290.1 992.3L291.3 992.7L292.6 992.7L293.9 992.7L295.2 993.0L296.5 992.8L297.8 992.9L299.1 993.3L300.4 993.2L301.7 992.5L303.0 992.8L304.3 992.7L305.6 993.1L306.9 992.8L308.2 992.4L309.4 992.6L310.7 992.8L312.0 992.2L313.3 992.6L314.6 992.7L315.9 992.3L317.2 993.0L318.5 992.4L319.8 992.8L321.1 992.7L322.4 992.7L323.7 992.5L325.0 992.5L326.3 992.4L327.5 992.4L328.8 992.1L330.1 992.0L331.4 992.2L332.7 992.2L334.0 992.5L335.3 992.7L336.6 992.2L337.9 992.4L339.2 992.1L340.5 992.9L341.8 991.6L343.1 992.7L344.4 992.3L345.6 992.0L346.9 992.7L348.2 992.4L349.5 992.9L350.8 992.7L352.1 992.8L353.4 992.2L354.7 992.2L356.0 992.3L357.3 991.9L358.6 991.8L359.9 992.2L361.2 992.2L362.5 992.2L363.8 992.3L365.0 991.8L366.3 992.1L367.6 992.2L368.9 992.2L370.2 991.9L371.5 992.2L372.8 992.0L374.1 992.1L375.4 991.7L376.7 991.7L378.0 992.4L379.3 992.1L380.6 991.8L381.9 992.1L383.1 991.8L384.4 991.9L384.6 991.8L384.9 992.0L385.1 991.9L385.3 991.8L385.5 992.4L385.7 992.2L385.7 992.3L385.9 991.5L386.1 991.9L386.3 991.9L386.5 991.9L386.7 992.1L386.9 992.2L387.0 991.7L387.1 992.1L387.3 991.5L387.5 991.9L387.8 991.9L388.0 992.0L388.2 992.0L388.3 991.9L388.4 991.5L388.6 991.3L388.8 992.3L389.0 991.9L389.2 991.7L389.4 992.2L389.6 992.1L389.8 992.0L390.0 992.6L390.2 991.7L390.4 991.9L390.6 991.9L390.9 991.8L390.9 991.8L391.1 991.2L391.3 991.8L391.5 991.6L391.7 992.0L391.9 991.7L392.1 991.9L392.2 991.8L392.3 992.0L392.5 992.0L392.7 991.6L392.9 991.5L393.1 991.5L393.3 991.8L393.5 991.5L393.5 992.4L393.7 991.3L394.0 991.5L394.2 991.4L394.4 991.0L394.6 991.5L394.8 991.0L395.0 991.3L395.2 990.9L395.4 991.2L395.6 990.8L395.8 990.3L396.0 990.8L396.1 990.8L396.2 990.5L396.4 990.0L396.6 988.9L396.9 989.8L397.1 990.0L397.3 989.1L397.4 989.2L397.5 988.5L397.7 987.6L397.9 987.2L398.1 986.2L398.3 985.6L398.5 982.8L398.7 981.7L398.7 979.9L398.9 976.9L399.1 974.1L399.3 967.3L399.5 958.6L399.7 947.4L400.0 935.9L400.2 917.7L400.4 898.4L400.6 885.2L400.8 868.0L401.0 851.5L401.2 836.9L401.2 828.6L401.4 817.6L401.6 801.6L401.8 784.4L402.0 768.2L402.2 758.4L402.4 736.9L402.5 731.4L402.6 721.5L402.9 707.3L403.1 691.0L403.3 669.1L403.5 654.3L403.7 637.6L403.8 624.5L403.9 619.1L404.1 602.0L404.3 591.9L404.5 570.7L404.7 552.4L404.9 533.0L405.1 514.2L405.3 505.0L405.5 478.7L405.7 468.7L406.0 451.6L406.2 440.3L406.4 426.6L406.4 416.0L406.6 412.6L406.8 401.1L407.0 386.4L407.2 374.8L407.4 377.7L407.6 364.1L407.7 359.3L407.8 348.3L408.0 337.9L408.2 340.0L408.4 331.2L408.6 322.4L408.9 314.8L409.0 315.9L409.1 309.7L409.3 309.9L409.5 312.1L409.7 301.6L409.9 290.1L410.1 282.8L410.3 290.0L410.5 283.5L410.7 271.7L410.9 280.8L411.1 260.6L411.3 254.4L411.5 266.7L411.6 250.4L411.7 251.4L412.0 241.0L412.2 241.9L412.4 240.4L412.6 235.5L412.8 228.7L412.9 230.1L413.0 229.1L413.2 232.1L413.4 221.0L413.6 219.9L413.8 209.4L414.0 214.2L414.2 212.4L414.2 214.0L414.4 205.6L414.6 206.7L414.9 206.2L415.1 193.9L415.3 190.8L415.5 197.8L415.7 197.8L415.9 186.3L416.1 192.4L416.3 174.6L416.5 185.1L416.7 178.3L416.8 187.5L416.9 180.6L417.1 173.8L417.3 174.7L417.5 177.0L417.7 162.4L418.0 168.1L418.1 171.4L418.2 172.2L418.4 169.1L418.6 160.5L418.8 168.2L419.0 163.2L419.2 165.4L419.4 155.3L419.4 161.1L419.6 155.3L419.8 155.2L420.0 158.8L420.2 152.0L420.4 153.3L420.6 154.4L420.9 151.2L421.1 147.0L421.3 150.2L421.5 148.1L421.7 149.3L421.9 146.4L421.9 147.4L422.1 145.2L422.3 145.3L422.5 145.8L422.7 142.6L422.9 143.3L423.1 143.5L423.2 142.0L423.3 142.8L423.5 140.6L423.7 140.5L424.0 140.3L424.2 138.6L424.4 140.3L424.5 137.6L424.6 140.7L424.8 136.5L425.0 137.8L425.2 138.2L425.4 138.6L425.6 137.2L425.8 138.0L426.0 138.0L426.2 136.8L426.4 138.4L426.6 138.3L426.9 137.7L427.1 137.1L427.1 138.5L427.3 138.3L427.5 138.6L427.7 138.0L427.9 137.4L428.1 140.3L428.3 139.7L428.4 139.8L428.5 139.2L428.7 138.5L428.9 140.4L429.1 140.4L429.3 139.7L429.5 142.6L429.7 142.3L429.7 142.1L430.0 141.9L430.2 141.9L430.4 143.1L430.6 140.9L430.8 143.9L431.0 143.7L432.3 144.5L433.6 147.2L434.9 150.7L436.2 153.0L437.5 155.5L438.7 159.6L440.0 159.6L441.3 169.8L442.6 169.1L443.9 180.3L445.2 180.8L446.5 185.8L447.8 179.5L449.1 190.9L450.4 191.7L451.7 201.1L453.0 202.2L454.3 206.7L455.6 213.4L456.8 210.5L458.1 225.4L459.4 220.0L460.7 215.8L462.0 234.8L463.3 235.5L464.6 246.5L465.9 244.5L467.2 255.9L468.5 250.4L469.8 259.4L471.1 269.3L472.4 271.3L473.7 276.8L474.9 275.8L476.2 275.5L477.5 284.9L478.8 292.3L480.1 295.2L481.4 295.6L482.7 310.1L484.0 302.2L485.3 307.2L486.6 322.7L487.9 312.5L489.2 327.7L490.5 326.3L491.8 324.9L493.1 340.0L494.3 344.9L495.6 346.0L496.9 349.9L498.2 350.2L499.5 355.6L500.8 359.4L502.1 363.3L503.4 366.0L504.7 372.4L506.0 371.6L507.3 376.7L508.6 384.2L509.9 377.2L511.2 392.5L512.4 388.6L513.7 397.8L515.0 397.3L516.3 400.2L517.6 402.5L518.9 403.9L520.2 415.7L521.5 405.6L522.8 418.0L524.1 425.8L525.4 431.1L526.7 421.0L528.0 426.9L529.3 436.1L530.5 436.6L531.8 437.8L533.1 445.4L534.4 450.5L535.7 452.2L537.0 452.3L538.3 458.3L539.6 465.8L540.9 461.9L542.2 473.6L543.5 473.2L544.8 469.3L546.1 475.8L547.4 478.8L548.7 482.2L549.9 481.9L551.2 488.5L552.5 497.9L553.8 493.3L555.1 507.4L556.4 506.8L557.7 497.3L559.0 501.9L560.3 509.8L561.6 511.3L562.9 513.5L564.2 513.2L565.5 521.8L566.8 524.8L568.0 526.7L569.3 526.8L570.6 529.1L571.9 533.9L573.2 532.7L574.5 541.1L575.8 540.6L577.1 545.2L578.4 548.8L579.7 544.1L581.0 551.6L582.3 556.3L583.6 555.4L584.9 561.2L586.1 558.6L587.4 560.3L588.7 562.2L590.0 571.2L591.3 570.7L592.6 566.8L593.9 575.7L595.2 573.4L596.5 575.0L597.8 586.3L599.1 580.6L600.4 584.3L601.7 586.3L603.0 586.1L604.2 592.1L605.5 595.5L606.8 596.1L608.1 601.3L609.4 600.9L610.7 610.7L612.0 601.6L613.3 610.6L614.6 609.5L615.9 612.4L617.2 615.1L618.5 617.2L619.8 619.5L621.1 626.6L622.4 625.5L623.6 622.4L624.9 631.0L626.2 633.1L627.5 625.9L628.8 630.6L630.1 631.6L631.4 638.2L632.7 639.3L634.0 639.9L635.3 642.4L636.6 646.3L637.9 652.1L639.2 652.0L640.5 656.1L641.7 649.3L643.0 656.8L644.3 658.0L645.6 658.6L646.9 661.2L648.2 661.7L649.5 666.7L650.8 671.0L652.1 663.8L653.4 672.4L654.7 673.5L656.0 676.2L657.3 677.3L658.6 677.5L659.8 677.3L661.1 683.9L662.4 682.1L663.7 686.4L665.0 683.1L666.3 691.3L667.6 689.4L668.9 689.5L670.2 696.7L671.5 694.5L672.8 696.0L674.1 700.1L675.4 700.3L676.7 698.8L678.0 702.3L679.2 705.6L680.5 706.7L681.8 706.6L683.1 706.1L684.4 708.9L685.7 710.6L687.0 710.1L688.3 719.5L689.6 720.7L690.9 724.4L692.2 718.1L693.5 727.4L694.8 723.3L696.1 722.8L697.3 729.6L698.6 729.3L699.9 729.8L701.2 728.8L702.5 735.7L703.8 732.7L705.1 733.2L706.4 736.0L707.7 737.4L709.0 736.2L710.3 740.0L711.6 742.0L712.9 744.1L714.2 743.2L715.4 746.8L716.7 745.9L718.0 748.6L719.3 747.5L720.6 753.3L721.9 752.6L723.2 753.3L724.5 754.5L725.8 754.1L727.1 757.1L728.4 757.3L729.7 756.1L731.0 760.0L732.3 765.6L733.5 767.7L734.8 764.2L736.1 767.8L737.4 767.5L738.7 769.8L740.0 767.7L741.3 769.2L742.6 775.6L743.9 773.6L745.2 776.1L746.5 779.5L747.8 776.4L749.1 779.3L750.4 779.2L751.7 775.9L752.9 779.6L754.2 781.2L755.5 785.7L756.8 788.5L758.1 784.4L759.4 788.8L760.7 789.2L762.0 791.2L763.3 791.3L764.6 787.5L765.9 794.4L767.2 795.4L768.5 795.4L769.8 796.3L771.0 800.5L772.3 802.8L773.6 801.3L774.9 801.6L776.2 803.9L777.5 805.3L778.8 806.2L780.1 806.1L781.4 806.6L782.7 810.7L784.0 809.5L785.3 808.7L786.6 810.6L787.9 814.1L789.1 813.1L790.4 813.4L791.7 812.8L793.0 818.5L794.3 814.9L795.6 818.1L796.9 817.7L798.2 817.7L799.5 821.8L800.8 822.6L802.1 822.1L803.4 821.4L804.7 824.8L806.0 827.4L807.3 826.9L808.5 825.7L809.8 825.1L811.1 829.2L812.4 829.8L813.7 830.4L815.0 831.2L816.3 833.6L817.6 833.5L818.9 833.1L820.2 834.2L821.5 835.2L822.8 838.0L824.1 838.0L825.4 839.1L826.6 836.7L827.9 836.7L829.2 839.6L830.5 838.1L831.8 842.4L833.1 843.2L834.4 845.9L835.7 843.9L837.0 845.9L838.3 845.7L839.6 845.8L840.9 847.9L842.2 850.3L843.5 849.1L844.7 849.9L846.0 850.5L847.3 850.1L848.6 852.5L849.9 853.3L851.2 850.5L852.5 852.4L853.8 855.2L855.1 857.4L856.4 857.3L857.7 856.6L859.0 856.5L860.3 854.5L861.6 859.8L862.9 859.9L864.1 861.4L865.4 861.4L866.7 862.9L868.0 864.7L869.3 861.9L870.6 864.1L871.9 862.8L873.2 866.5L874.5 865.9L875.8 865.9L877.1 870.8L878.4 870.5L879.7 867.7L881.0 869.5L882.2 873.3L883.5 872.2L884.8 873.3L886.1 873.0L887.4 870.4L888.7 874.5L890.0 870.9L891.3 875.2L892.6 876.6L893.9 873.5L895.2 875.1L896.5 875.1L897.8 874.8L899.1 876.8L900.3 877.1L901.6 882.4L902.9 881.6L904.2 880.2L905.5 881.2L906.8 880.9L908.1 883.4L909.4 881.5L910.7 880.7L912.0 883.5L913.3 883.7L914.6 884.7L915.9 884.7L917.2 886.3L918.4 888.0L919.7 887.5L921.0 888.2L922.3 891.2L923.6 889.1L924.9 890.0L926.2 890.2L927.5 891.9L928.8 890.9L930.1 891.2L931.4 893.8L932.7 892.7L934.0 892.6L935.3 893.2L936.6 896.2L937.8 896.8L939.1 895.8L940.4 897.9L941.7 893.2L943.0 898.6L944.3 899.1L945.6 897.5L946.9 899.6L948.2 902.8L949.5 900.1L950.8 901.8L952.1 901.7L953.4 903.7L954.7 903.2L955.9 902.6L957.2 903.0L958.5 904.9L959.8 904.9L961.1 905.5L962.4 904.6L963.7 905.5L965.0 907.5L966.3 905.3L967.6 907.6L968.9 906.6L970.2 908.9L971.5 907.6L972.8 908.7L974.0 908.9L975.3 908.7L976.6 909.2L977.9 910.1L979.2 910.5L980.5 912.9L981.8 911.7L983.1 915.0L984.4 915.5L985.7 913.3L987.0 913.6L988.3 911.7L989.6 913.3L990.9 913.1L992.1 915.4L993.4 914.8L994.7 914.3L996.0 915.5L997.3 916.1L998.6 916.9L999.9 918.6L1001.2 919.0L1002.5 920.1L1003.8 918.1L1005.1 919.3L1006.4 920.3L1007.7 919.3L1009.0 920.9L1010.3 919.2L1011.5 918.5L1012.8 920.7L1014.1 922.6L1015.4 924.0L1016.7 919.9L1018.0 922.2L1019.3 924.7L1020.6 922.2L1021.9 926.0L1023.2 924.8L1024.5 925.0L1025.8 925.5L1027.1 926.8L1028.4 922.8L1029.6 926.6L1030.9 926.0L1032.2 926.8L1033.5 929.1L1034.8 928.2L1036.1 927.6L1037.4 927.1L1038.7 929.0L1040.0 928.4L1041.3 929.6L1042.6 928.9L1043.9 932.9L1045.2 929.5L1046.5 931.3L1047.7 931.6L1049.0 934.6L1050.3 932.8L1051.6 931.2L1052.9 929.5L1054.2 933.4L1055.5 933.6L1056.8 932.6L1058.1 933.2L1059.4 934.5L1060.7 934.3L1062.0 934.9L1063.3 934.0L1064.6 934.2L1065.9 933.4L1067.1 934.6L1068.4 935.2L1069.7 936.1L1071.0 935.5L1072.3 938.0L1073.6 934.8L1074.9 937.2L1076.2 936.2L1077.5 939.0L1078.8 937.2L1080.1 938.2L1081.4 939.2L1082.7 940.0L1084.0 940.5L1085.2 937.8L1086.5 938.8L1087.8 940.3L1089.1 940.5L1090.4 941.8L1091.7 943.2L1093.0 943.5L1094.3 942.4L1095.6 942.2L1096.9 943.6L1098.2 941.7L1099.5 942.3L1100.8 943.0L1102.1 945.3L1103.3 943.9L1104.6 944.0L1105.9 945.6L1107.2 946.8L1108.5 942.7L1109.8 944.3L1111.1 945.7L1112.4 943.8L1113.7 944.6L1115.0 945.5L1116.3 946.0L1117.6 945.7L1118.9 945.2L1120.2 946.9L1121.4 947.5L1122.7 946.9L1124.0 950.7L1125.3 947.9L1126.6 948.7L1127.9 948.5L1129.2 948.9L1130.5 948.6L1131.8 949.1L1133.1 949.4L1134.4 949.8L1135.7 949.4L1137.0 950.6L1138.3 949.4L1139.6 952.3L1140.8 950.6L1142.1 950.6L1143.4 952.5L1144.7 951.9L1146.0 950.4L1147.3 952.1L1148.6 953.0L1149.9 955.3L1151.2 952.3L1152.5 952.7L1153.8 952.5L1155.1 951.3L1156.4 953.5L1157.7 953.6L1158.9 954.6L1160.2 954.2L1161.5 954.4L1162.8 953.8L1164.1 954.2L1165.4 955.7L1166.7 955.6L1168.0 954.1L1169.3 956.5L1170.6 955.1L1171.9 954.4L1173.2 955.6L1174.5 956.1L1175.8 955.3L1177.0 956.4L1178.3 957.0L1179.6 957.4L1180.9 956.3L1182.2 956.9L1183.5 956.3L1184.8 958.2L1186.1 958.4L1187.4 958.7L1188.7 958.3L1190.0 959.3L1191.3 958.0L1192.6 958.8L1193.9 960.1L1195.2 962.1L1196.4 961.3L1197.7 958.5L1199.0 960.0L1200.3 960.0L1201.6 960.7L1202.9 960.2L1204.2 962.4L1205.5 962.6L1206.8 962.5L1208.1 961.2L1209.4 960.8L1210.7 961.2L1212.0 961.9L1213.3 963.0L1214.5 961.4L1215.8 962.5L1217.1 962.4L1218.4 962.7L1219.7 963.2L1221.0 963.6L1222.3 963.6L1223.6 964.4L1224.9 963.2L1226.2 963.7L1227.5 962.9L1228.8 965.4L1230.1 963.1L1231.4 964.3L1232.6 964.5L1233.9 965.2L1235.2 965.4L1236.5 966.1L1237.8 964.3L1239.1 965.3L1240.4 964.7L1241.7 964.8L1243.0 966.0L1244.3 966.0L1245.6 966.2L1246.9 965.2L1248.2 966.1L1249.5 966.2L1250.8 965.9L1252.0 966.7L1253.3 965.2L1254.6 967.7L1255.9 966.1L1257.2 966.1L1258.5 968.3L1259.8 966.8L1261.1 967.4L1262.4 967.1L1263.7 968.9L1265.0 967.9L1266.3 969.0L1267.6 968.6L1268.9 967.4L1270.1 968.7L1271.4 970.5L1272.7 970.0L1274.0 969.9L1275.3 968.4L1276.6 969.8L1277.9 970.6L1279.2 968.7L1280.5 969.5L1281.8 969.6L1283.1 970.6L1284.4 969.0L1285.7 970.3L1287.0 971.8L1288.2 971.3L1289.5 971.2L1290.8 970.8L1292.1 970.3L1293.4 971.5L1294.7 971.5L1296.0 969.6L1297.3 971.3L1298.6 971.9L1299.9 971.6L1301.2 972.6L1302.5 971.4L1303.8 971.2L1305.1 972.5L1306.3 971.5L1307.6 972.5L1308.9 972.2L1310.2 973.1L1311.5 973.2L1312.8 973.8L1314.1 972.7L1315.4 973.2L1316.7 973.3L1318.0 974.0L1319.3 974.2L1320.6 973.9L1321.9 973.2L1323.2 973.5L1324.5 974.3L1325.7 973.7L1327.0 972.8L1328.3 974.0L1329.6 972.8L1330.9 974.0L1332.2 973.5L1333.5 974.9L1334.8 973.8L1336.1 975.6L1337.4 974.7L1338.7 975.2L1340.0 976.4L1341.3 976.1L1342.6 974.5L1343.8 975.0L1345.1 974.6L1346.4 975.4L1347.7 977.6L1349.0 975.6L1350.3 976.2L1351.6 976.3L1352.9 976.4L1354.2 976.7L1355.5 976.9L1356.8 975.5L1358.1 976.1L1359.4 977.0L1360.7 976.9L1361.9 976.1L1363.2 976.6L1364.5 976.8L1365.8 977.8L1367.1 977.4L1368.4 977.9L1369.7 978.5L1371.0 976.8L1372.3 977.7L1373.6 977.8L1374.9 978.3L1376.2 977.3L1377.5 976.5L1378.8 977.5L1380.0 977.4L1381.3 978.9L1382.6 978.1L1383.9 978.1L1385.2 977.4L1386.5 978.4L1387.8 979.1L1389.1 978.6L1390.4 979.0L1391.7 977.9L1393.0 978.5L1394.3 978.7L1395.6 978.9L1396.9 978.6L1398.2 979.5L1399.4 979.8L1400.7 980.5L1402.0 978.7L1403.3 979.2L1404.6 979.2L1405.9 979.7L1407.2 978.8L1408.5 980.4L1409.8 979.2L1411.1 980.5L1412.4 980.3L1413.7 980.9L1415.0 980.2L1416.3 980.5L1417.5 980.1L1418.8 980.8L1420.1 981.3L1421.4 980.3L1422.7 979.9L1424.0 980.3L1425.3 980.9L1426.6 980.7L1427.9 981.9L1429.2 981.2L1430.5 980.5L1431.8 980.9L1433.1 981.7L1434.4 980.8L1435.6 981.5L1436.9 981.1L1438.2 982.3L1439.5 981.9L1440.8 981.5L1442.1 981.6L1443.4 981.5L1444.7 981.9L1446.0 982.1L1447.3 981.8L1448.6 981.6L1449.9 983.0L1451.2 982.4L1452.5 982.4L1453.8 982.3L1455.0 981.9L1456.3 983.2L1457.6 982.3L1458.9 983.5L1460.2 983.1L1461.5 983.0L1462.8 982.9L1464.1 983.2L1465.4 983.2L1466.7 983.2L1468.0 983.2L1469.3 984.1L1470.6 983.9L1471.9 983.5L1473.1 983.0L1474.4 982.8L1475.7 981.9L1477.0 983.4L1478.3 983.9L1479.6 983.5L1480.9 983.3L1482.2 983.6L1483.5 984.3L1484.8 983.9L1486.1 983.9L1487.4 984.7L1488.7 984.6L1490.0 983.4L1491.2 985.2L1492.5 984.1L1493.8 984.4L1495.1 983.6L1496.4 984.0L1497.7 984.8L1499.0 983.8L1500.3 984.8L1501.6 983.6L1502.9 983.8L1504.2 984.7L1505.5 984.3L1506.8 984.7L1508.1 985.3L1509.3 984.4L1510.6 984.7L1511.9 984.6L1513.2 984.5L1514.5 984.4L1515.8 984.6L1517.1 985.2L1518.4 985.2L1519.7 985.1L1521.0 985.4L1522.3 985.5L1523.6 984.5L1524.9 985.2L1526.2 984.6L1527.5 985.9L1528.7 985.6L1530.0 985.9L1531.3 985.9L1532.6 985.9L1533.9 985.9L1535.2 986.1L1536.5 985.1L1537.8 985.6L1539.1 986.4L1540.4 986.3L1541.7 985.8L1543.0 985.9L1544.3 986.5L1545.6 985.8L1546.8 986.9L1548.1 986.5L1549.4 985.6L1550.7 987.6L1552.0 986.6L1553.3 986.1L1554.6 986.6L1555.9 986.9L1557.2 987.0L1558.5 987.6L1559.8 987.3L1561.1 986.7L1562.4 987.1L1563.7 986.9L1564.9 987.0L1566.2 986.8L1567.5 987.7L1568.8 987.2L1570.1 987.2L1571.4 987.2L1572.7 987.5L1574.0 988.1"/>
<path stroke="#000" stroke-width="7.5" d="M431.4 124.8L436.6 145.4L441.7 165.4L446.9 184.9L452.1 203.9L457.3 222.4L462.4 240.5L467.6 258.1L472.8 275.2L477.9 291.9L483.1 308.2L488.3 324.0L493.5 339.5L498.6 354.6L503.8 369.3L509.0 383.6L514.2 397.6L519.3 411.2L524.5 424.5L529.7 437.5L534.8 450.2L540.0 462.5L545.2 474.5L550.4 486.3L555.5 497.7L560.7 508.9L565.9 519.8L571.0 530.5L576.2 540.8L581.4 551.0L586.6 560.9L591.7 570.5L596.9 580.0L602.1 589.2L607.2 598.2L612.4 606.9L617.6 615.5L622.8 623.9L627.9 632.0L633.1 640.0L638.3 647.8L643.5 655.4L648.6 662.8L653.8 670.1L659.0 677.2L664.1 684.1L669.3 690.9L674.5 697.5L679.7 703.9L684.8 710.2L690.0 716.4L695.2 722.4L700.3 728.3L705.5 734.1L710.7 739.7L715.9 745.2L721.0 750.6L726.2 755.8L731.4 760.9L736.5 765.9L741.7 770.9L746.9 775.6L752.1 780.3L757.2 784.9L762.4 789.4L767.6 793.8L772.8 798.0L777.9 802.2L783.1 806.3L788.3 810.3L793.4 814.2L798.6 818.1L803.8 821.8L809.0 825.5L814.1 829.0L819.3 832.5L824.5 836.0L829.6 839.3L834.8 842.6L840.0 845.8L845.2 848.9L850.3 852.0L855.5 855.0L860.7 857.9L865.8 860.8L871.0 863.6L876.2 866.4L881.4 869.1L886.5 871.7L891.7 874.3L896.9 876.8L902.1 879.3L907.2 881.7L912.4 884.0L917.6 886.3L922.7 888.6L927.9 890.8L933.1 893.0L938.3 895.1L943.4 897.2L948.6 899.2L953.8 901.2L958.9 903.1L964.1 905.0L969.3 906.9L974.5 908.7L979.6 910.5L984.8 912.3L990.0 914.0L995.1 915.6L1000.3 917.3L1005.5 918.9L1010.7 920.5L1015.8 922.0L1021.0 923.5L1026.2 925.0L1031.4 926.4L1036.5 927.8L1041.7 929.2L1046.9 930.6L1052.0 931.9L1057.2 933.2L1062.4 934.5L1067.6 935.7L1072.7 936.9L1077.9 938.1L1083.1 939.3L1088.2 940.4L1093.4 941.6L1098.6 942.7L1103.8 943.7L1108.9 944.8L1114.1 945.8L1119.3 946.8L1124.4 947.8L1129.6 948.8L1134.8 949.7L1140.0 950.7L1145.1 951.6L1150.3 952.5L1155.5 953.3L1160.7 954.2L1165.8 955.0L1171.0 955.8L1176.2 956.6L1181.3 957.4L1186.5 958.2L1191.7 958.9L1196.9 959.7L1202.0 960.4L1207.2 961.1L1212.4 961.8L1217.5 962.5L1222.7 963.1L1227.9 963.8L1233.1 964.4L1238.2 965.1L1243.4 965.7L1248.6 966.3L1253.7 966.9L1258.9 967.4L1264.1 968.0L1269.3 968.5L1274.4 969.1L1279.6 969.6L1284.8 970.1L1290.0 970.6L1295.1 971.1L1300.3 971.6L1305.5 972.1L1310.6 972.6L1315.8 973.0L1321.0 973.5L1326.2 973.9L1331.3 974.4L1336.5 974.8L1341.7 975.2L1346.8 975.6L1352.0 976.0L1357.2 976.4L1362.4 976.8L1367.5 977.1L1372.7 977.5L1377.9 977.9L1383.0 978.2L1388.2 978.5L1393.4 978.9L1398.6 979.2L1403.7 979.5L1408.9 979.9L1414.1 980.2L1419.3 980.5L1424.4 980.8L1429.6 981.1L1434.8 981.3L1439.9 981.6L1445.1 981.9L1450.3 982.2L1455.5 982.4L1460.6 982.7L1465.8 982.9L1471.0 983.2L1476.1 983.4L1481.3 983.7L1486.5 983.9L1491.7 984.1L1496.8 984.3L1502.0 984.6L1507.2 984.8L1512.3 985.0L1517.5 985.2L1522.7 985.4L1527.9 985.6L1533.0 985.8L1538.2 986.0L1543.4 986.2L1548.6 986.3L1553.7 986.5L1558.9 986.7L1564.1 986.9L1569.2 987.0L1574.0 987.2"/>
</g>
<g font-family="'Liberation Sans', Arial, sans-serif" font-weight="bold" font-size="51" fill="#000">
<text x="281.0" y="1098" text-anchor="middle">0</text>
<text x="539.6" y="1098" text-anchor="middle">5</text>
<text x="798.2" y="1098" text-anchor="middle">10</text>
<text x="1056.8" y="1098" text-anchor="middle">15</text>
<text x="1315.4" y="1098" text-anchor="middle">20</text>
<text x="1574.0" y="1098" text-anchor="middle">25</text>
<text x="226.2" y="705.0" text-anchor="end">1x10</text>
<text x="228.6" y="683.5" font-size="34.5">4</text>
<text x="226.2" y="396.8" text-anchor="end">2x10</text>
<text x="228.6" y="375.3" font-size="34.5">4</text>
<text x="226.2" y="88.5" text-anchor="end">3x10</text>
<text x="228.6" y="67.0" font-size="34.5">4</text>
<text x="247.5" y="1010" text-anchor="end">0</text>
<text x="943" y="1158" text-anchor="middle">Lifetime (ns)</text>
<text transform="translate(88 505.2) rotate(-90)" text-anchor="middle" font-size="51.3">Intensity (counts)</text>
<line x1="1243.2" y1="131.9" x2="1359.8" y2="131.9" stroke="#008000" stroke-width="7.5" stroke-linecap="round"/>
<text x="1372.7" y="150.8">DMSO</text>
<line x1="1243.2" y1="196.5" x2="1359.8" y2="196.5" stroke="#FF8000" stroke-width="7.5" stroke-linecap="round"/>
<text x="1372.7" y="215.4">DMF</text>
<line x1="1243.2" y1="261.1" x2="1359.8" y2="261.1" stroke="#9400FF" stroke-width="7.5" stroke-linecap="round"/>
<text x="1372.7" y="280.0">Ethanol</text>
<line x1="1243.2" y1="325.7" x2="1359.8" y2="325.7" stroke="#000" stroke-width="7.5" stroke-linecap="round"/>
<text x="1372.7" y="344.6">Fit</text>
</g>
</svg>
</body>
</html>
